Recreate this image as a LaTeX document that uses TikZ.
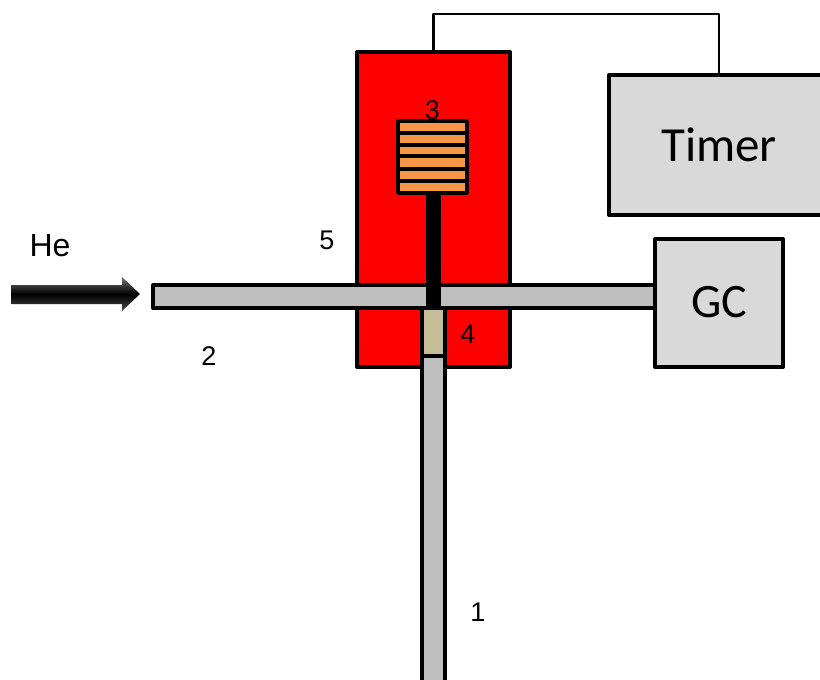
\documentclass[tikz,border=0pt]{standalone}
\usepackage{fontspec}
\setmainfont{Carlito}
\newfontfamily\labelfont{Liberation Sans}
\tikzset{
  part/.style={draw=black,line width=4pt,inner sep=0pt,outer sep=0pt,rectangle,line join=round},
  tube/.style={part,fill=tubegray},
  stripe/.style={part,line width=3.4pt,fill=coilorange,minimum width=69pt},
  wire/.style={draw=black,line width=2.5pt,line join=round},
  num/.style={inner sep=0pt,font=\labelfont\fontsize{27}{27}\selectfont},
}
\definecolor{tubegray}{HTML}{BFBFBF}
\definecolor{boxgray}{HTML}{D9D9D9}
\definecolor{coilorange}{HTML}{F79646}
\definecolor{sampletan}{HTML}{C4BD97}
\definecolor{ovenred}{HTML}{FF0000}
\begin{document}
\begin{tikzpicture}[x=1pt,y=-1pt]
\useasboundingbox (0,0) rectangle (820,680);
\clip (0,0) rectangle (820,680);
% shapes
\node[part,fill=ovenred,minimum width=153pt,minimum height=315pt] (oven) at (433.5,209.5) {};
\node[part,fill=boxgray,minimum width=220pt,minimum height=140pt] (timer) at (719,145) {};
\node[part,fill=boxgray,minimum width=128pt,minimum height=128pt] (gc) at (719,303) {};
\draw[wire] (oven.north) -- ++(0,-38) -| (timer.north);
\node[tube,minimum width=502pt,minimum height=23pt] (htube) at (404,296.5) {};
\node[fill=black,inner sep=0pt,minimum width=15pt,minimum height=117pt] (rod) at (433.5,251.5) {};
\node[tube,minimum width=23pt,minimum height=344pt] (vtube) at (433.5,528) {};
\node[part,fill=sampletan,minimum width=23pt,minimum height=48pt] (sample) at (433.5,332) {};
% coil
\node[stripe,minimum height=12pt] (c1) at (432.5,127) {};
\node[stripe,minimum height=12pt] (c2) at (432.5,139) {};
\node[stripe,minimum height=11pt] (c3) at (432.5,150.5) {};
\node[stripe,minimum height=13pt] (c4) at (432.5,162.5) {};
\node[stripe,minimum height=12pt] (c5) at (432.5,175) {};
\node[stripe,minimum height=12pt] (c6) at (432.5,187) {};
% arrow
\shade[top color=black!55,bottom color=black!70,middle color=black]
  (11,285) -- (122,285) -- (122,277) -- (140,294) -- (122,311) -- (122,304) -- (11,304) -- cycle;
% labels
\node[inner sep=0pt,font=\fontsize{49}{49}\selectfont] (timerlabel) at (719,144.5) {Timer};
\node[inner sep=0pt,font=\fontsize{48}{48}\selectfont] (gclabel) at (719,302) {GC};
\node[inner sep=0pt,font=\labelfont\fontsize{32}{32}\selectfont] (he) at (50,246) {He};
\node[num] (n1) at (478,612) {1};
\node[num] (n2) at (209,356) {2};
\node[num] (n3) at (432.5,110) {3};
\node[num] (n4) at (468,334) {4};
\node[num] (n5) at (327,240) {5};
\end{tikzpicture}
\end{document}
